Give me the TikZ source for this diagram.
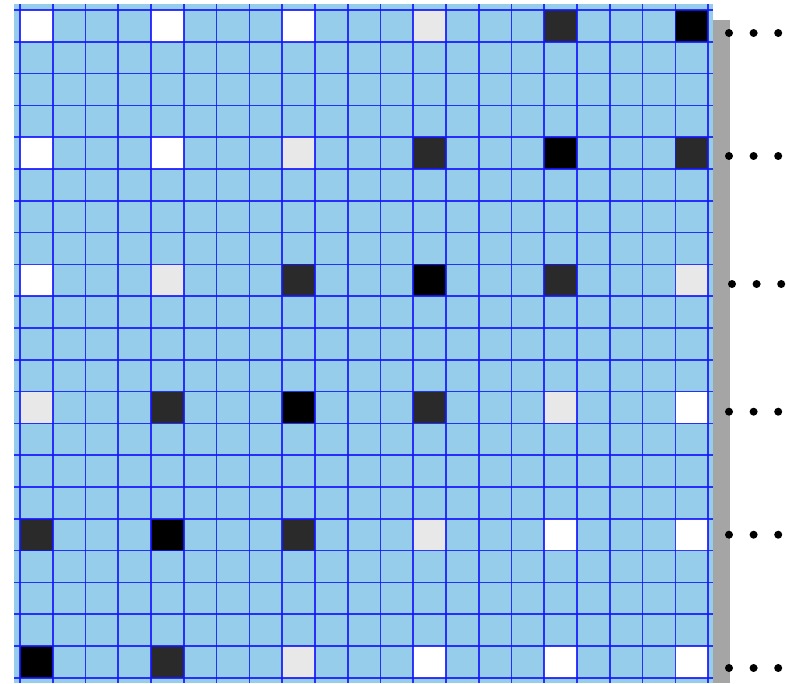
\documentclass[tikz,border=0pt]{standalone}
\usetikzlibrary{calc}
\definecolor{cellblue}{RGB}{150,205,234}
\definecolor{gridblue}{RGB}{20,20,255}
\definecolor{lgray}{RGB}{232,232,232}
\definecolor{dgray}{RGB}{42,42,42}
\definecolor{bargray}{RGB}{165,165,165}
\tikzset{
  gridline/.style={draw=gridblue, line width=1.7pt, draw opacity=0.85},
  cellW/.style={fill=white},
  cellL/.style={fill=lgray},
  cellD/.style={fill=dgray},
  cellB/.style={fill=black},
  dotmark/.style={fill=black},
}
\begin{document}
\begin{tikzpicture}[x=1pt,y=-1pt]
\useasboundingbox (0,0) rectangle (786,683);
% background
\fill[cellblue] (14,4) rectangle (713,683);
% coloured cells
\def\cw{32.77}
\def\ch{31.8}
\foreach \r/\c/\s in {
 0/0/W,0/1/W,0/2/W,0/3/L,0/4/D,0/5/B,
 1/0/W,1/1/W,1/2/L,1/3/D,1/4/B,1/5/D,
 2/0/W,2/1/L,2/2/D,2/3/B,2/4/D,2/5/L,
 3/0/L,3/1/D,3/2/B,3/3/D,3/4/L,3/5/W,
 4/0/D,4/1/B,4/2/D,4/3/L,4/4/W,4/5/W,
 5/0/B,5/1/D,5/2/L,5/3/W,5/4/W,5/5/W}{
  \pgfmathsetmacro\xa{20+4*\c*\cw}
  \pgfmathsetmacro\ya{10+4*\r*\ch}
  \path[cell\s] (\xa,\ya) rectangle ++(\cw,\ch);
}
% grid lines
\foreach \i in {0,...,21}{
  \pgfmathsetmacro\xx{20+\i*\cw}
  \draw[gridline] (\xx,4) -- (\xx,683);
}
\foreach \j in {0,...,21}{
  \pgfmathsetmacro\yy{10+\j*\ch}
  \draw[gridline] (14,\yy) -- (713,\yy);
}
% side bar
\fill[bargray] (713,20) rectangle (729.5,683);
% dots
\foreach \y/\x in {33/729,156/729,284/732,411.7/729,534.7/729,668/729}{
  \foreach \k in {0,1,2}{
    \fill[dotmark] (\x+\k*24.6,\y) circle (4);
  }
}
\end{tikzpicture}
\end{document}
